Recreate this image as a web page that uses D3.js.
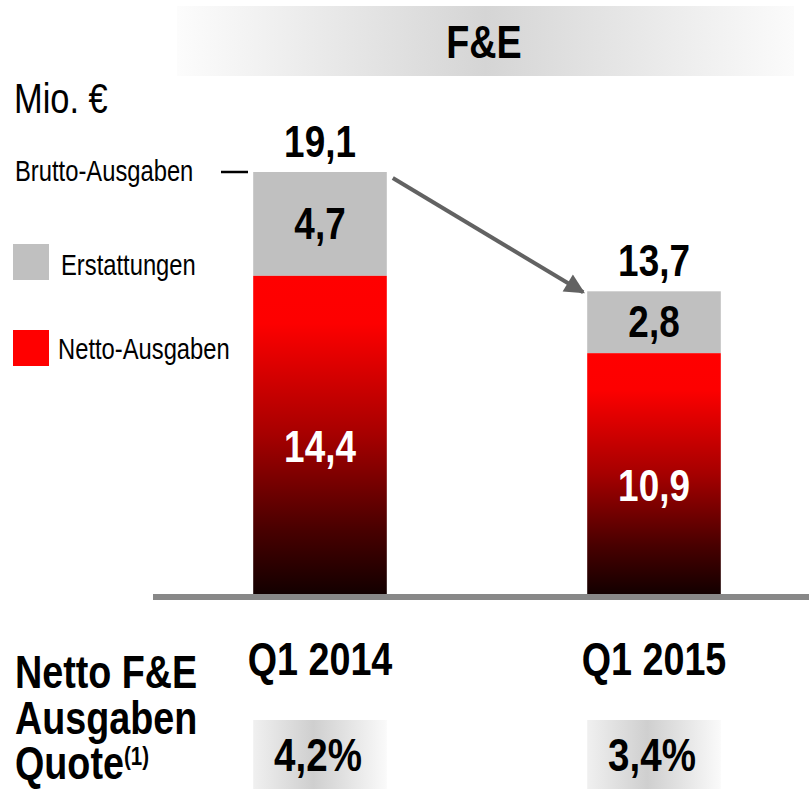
<!DOCTYPE html>
<html><head><meta charset="utf-8">
<script src="https://cdn.jsdelivr.net/npm/d3@7"></script>
<style>
html,body{margin:0;padding:0;background:#fff;}
svg{display:block;}
text{font-family:"Liberation Sans",Arial,sans-serif;}
</style></head>
<body>
<script>
const categories = ["Q1 2014", "Q1 2015"];
const erstattungen = [4.7, 2.8];
const netto = [14.4, 10.9];
const brutto = [19.1, 13.7];
const quoten = ["4,2%", "3,4%"];
const fmt = v => String(v).replace(".", ",");

const W = 809, H = 789, NARROW = 0.82;
const svg = d3.select("body").append("svg").attr("width", W).attr("height", H);
const defs = svg.append("defs");

// narrow text helper (Arial Narrow look)
function txt(parent, x, y, s, size, opts = {}) {
  return parent.append("text")
    .attr("transform", `translate(${x},${y}) scale(${opts.sx || NARROW},1)`)
    .attr("font-size", size)
    .attr("text-anchor", opts.anchor || "start")
    .attr("font-weight", opts.bold ? "bold" : "normal")
    .attr("fill", opts.fill || "#000")
    .text(s);
}

// gradients
const hg = defs.append("linearGradient").attr("id","hdr").attr("x1","0").attr("x2","1").attr("y1","0").attr("y2","0");
[[0,"#fcfcfc"],[0.5,"#d5d5d5"],[1,"#fbfbfb"]].forEach(s=>hg.append("stop").attr("offset",s[0]).attr("stop-color",s[1]));
const qg = defs.append("linearGradient").attr("id","qg").attr("x1","0").attr("x2","1").attr("y1","0").attr("y2","0");
[[0,"#f0f0f0"],[0.45,"#cfcfcf"],[1,"#fafafa"]].forEach(s=>qg.append("stop").attr("offset",s[0]).attr("stop-color",s[1]));
const rg = defs.append("linearGradient").attr("id","red").attr("x1","0").attr("x2","0").attr("y1","0").attr("y2","1");
[[0,"#ff0000"],[0.15,"#fd0000"],[0.5,"#a60000"],[0.8,"#480000"],[1,"#130000"]].forEach(s=>rg.append("stop").attr("offset",s[0]).attr("stop-color",s[1]));
defs.append("marker").attr("id","arr").attr("viewBox","0 0 10 10").attr("refX",9).attr("refY",5)
  .attr("markerWidth",6).attr("markerHeight",5).attr("orient","auto").attr("markerUnits","strokeWidth")
  .append("path").attr("d","M0,0 L10,5 L0,10 Z").attr("fill","#626262");

// scales
const x = d3.scaleBand().domain(categories).range([153, 821]).paddingInner(0.6).paddingOuter(0.3);
const y = d3.scaleLinear().domain([0, d3.max(brutto)]).range([594, 172]);
const bw = x.bandwidth();

// header
svg.append("rect").attr("x",177).attr("y",6).attr("width",617).attr("height",70).attr("fill","url(#hdr)");
txt(svg, 484, 58, "F&E", 46, {anchor:"middle", bold:true});

// unit + legend
txt(svg, 14, 113, "Mio. €", 42);
txt(svg, 15, 181, "Brutto-Ausgaben", 29);
svg.append("line").attr("x1",221).attr("x2",248).attr("y1",y(brutto[0])).attr("y2",y(brutto[0])).attr("stroke","#000").attr("stroke-width",2.5);
svg.append("rect").attr("x",13).attr("y",244).attr("width",36).attr("height",36).attr("fill","#c0c0c0");
txt(svg, 61, 275, "Erstattungen", 29);
svg.append("rect").attr("x",13).attr("y",330).attr("width",36).attr("height",36).attr("fill","#ff0000");
txt(svg, 58, 359, "Netto-Ausgaben", 29);

// bars
const g = svg.append("g");
categories.forEach((c,i)=>{
  const x0 = x(c);
  g.append("rect").attr("x",x0).attr("y",y(brutto[i])).attr("width",bw).attr("height",y(netto[i]) - y(brutto[i])).attr("fill","#c0c0c0");
  g.append("rect").attr("x",x0).attr("y",y(netto[i])).attr("width",bw).attr("height",y(0)-y(netto[i])).attr("fill","url(#red)");
  const cx = x0 + bw/2;
  txt(g, cx, y(brutto[i]) - 15, fmt(brutto[i]), 45, {anchor:"middle", bold:true});
  txt(g, cx, (y(brutto[i])+y(netto[i]))/2 + 15, fmt(erstattungen[i]), 45, {anchor:"middle", bold:true});
  txt(g, cx, (y(netto[i])+y(0))/2 + 27, fmt(netto[i]), 45, {anchor:"middle", bold:true, fill:"#fff"});
  txt(g, cx, 675, c, 46, {anchor:"middle", bold:true});
  g.append("rect").attr("x",x0).attr("y",720).attr("width",bw).attr("height",69).attr("fill","url(#qg)");
  txt(g, cx - 2, 771, quoten[i], 47, {anchor:"middle", bold:true});
});

// axis baseline
svg.append("line").attr("x1",153).attr("x2",809).attr("y1",y(0)+3).attr("y2",y(0)+3).attr("stroke","#888").attr("stroke-width",6);

// arrow
svg.append("line")
  .attr("x1", x(categories[0]) + bw + 6).attr("y1", y(brutto[0]) + 6)
  .attr("x2", x(categories[1]) - 4).attr("y2", y(brutto[1]) + 1)
  .attr("stroke","#626262").attr("stroke-width",4).attr("marker-end","url(#arr)");

// left bottom label
txt(svg, 15, 688, "Netto F&E", 46, {bold:true});
txt(svg, 15, 734, "Ausgaben", 46, {bold:true});
const q = txt(svg, 15, 779, "Quote", 46, {bold:true});
q.append("tspan").attr("font-size",25).attr("dy",-14).text("(1)");
</script>
</body></html>
